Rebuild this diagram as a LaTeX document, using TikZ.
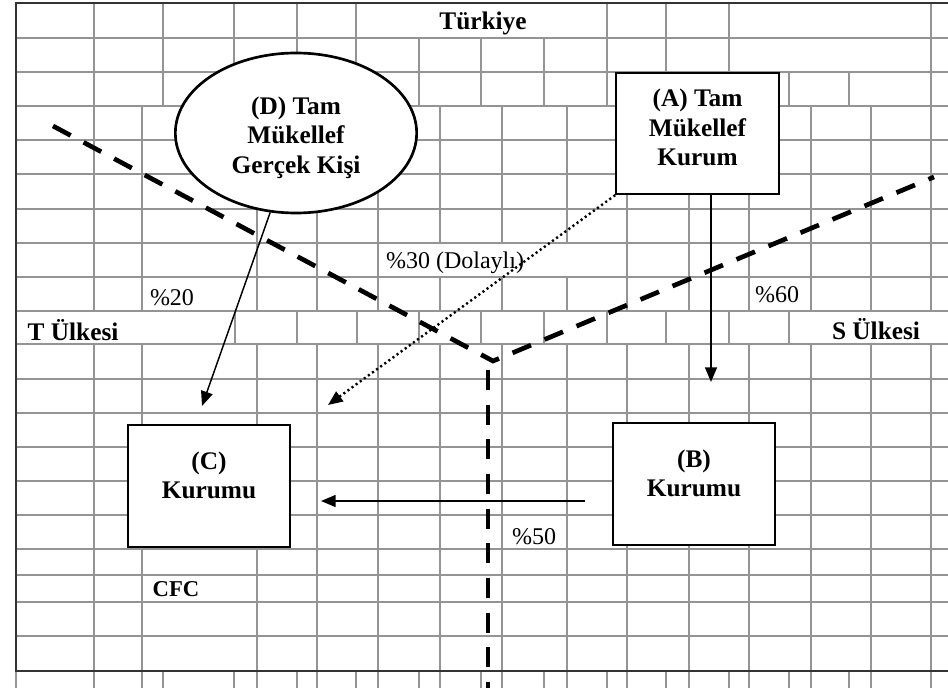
\documentclass[tikz,border=0pt]{standalone}
\usepackage{fontspec}
\setmainfont{Liberation Serif}
\usetikzlibrary{shapes.geometric,arrows.meta}
\definecolor{gridgray}{gray}{0.58}
\definecolor{framegray}{gray}{0.2}
\tikzset{>={Triangle[length=11pt,width=9pt]}}
\tikzset{
  cell/.style={draw=gridgray, line width=0.9pt},
  frame/.style={draw=framegray, line width=2pt},
  border/.style={line width=3.5pt, dash pattern=on 15pt off 11pt},
  box/.style={draw, line width=1.5pt, fill=white, minimum width=122pt, minimum height=91pt, inner sep=0pt},
  oval/.style={ellipse, draw, line width=2pt, fill=white, minimum width=181pt, minimum height=120pt, inner sep=0pt},
  title/.style={font=\fontsize{19}{22}\selectfont\bfseries, align=center, inner sep=0pt},
  pct/.style={font=\fontsize{18}{21}\selectfont, inner sep=0pt},
  flow/.style={->, line width=1.1pt},
}

\begin{document}
\begin{tikzpicture}[x=0.75pt,y=-0.75pt]
    \useasboundingbox (0,0) rectangle (948,688);
    \clip (0,0) rectangle (948,688);
    % table cells
    \foreach \y in {38,72,106,140,174,209,243,277,311,344,379,413,447,481,515,549,575,602,636}
    \draw[cell] (16,\y) -- (948,\y);
    \foreach \x in {94,163,234,297,356,607,666,729,931}
    \draw[cell] (\x,3) -- (\x,106);
    \foreach \x in {419,481,544}
    \draw[cell] (\x,38) -- (\x,106);
    \foreach \x in {789,849}
    \draw[cell] (\x,72) -- (\x,106);
    \foreach \x in {94,142,257,317,378,627,689,749,811,871,931}
    \draw[cell] (\x,106) -- (\x,311);
    \foreach \x in {440,502,567} {
    \draw[cell] (\x,106) -- (\x,243);
    \draw[cell] (\x,277) -- (\x,311);
    }
    \foreach \x in {235,297,357,419,481,544,607,666,729,789}
    \draw[cell] (\x,311) -- (\x,344);
    \foreach \x in {94,142,257,317,378,440,502,567,627,689,749,811,871,931}
    \draw[cell] (\x,344) -- (\x,671);
    \foreach \x in {16,94,142,163,234,257,297,317,356,378,419,440,481,502,544,567,607,627,666,689,729,749,789,811,849,871,931}
    \draw[cell] (\x,671) -- (\x,688);
    \draw[frame] (948,3) -- (16,3) -- (16,671) -- (948,671);
    % country borders
    \coordinate (Tend) at (53,126);
    \coordinate (Mid) at (493,361);
    \coordinate (Send) at (934,177);
    \coordinate (Top) at (488,370);
    \coordinate (Bot) at (488,688);
    \draw[border] (Tend) -- (Mid) -- (Send);
    \draw[border] (Top) -- (Bot);
    % taxpayers
    \node[oval] (D) at (296,133) {};
    \node[title] (Dtext) at ([yshift=-3.4pt]D.center) {(D) Tam\\M\"ukellef\\Ger\c{c}ek Ki\c{s}i};
    \node[box] (A) at (697.5,133.5) {};
    \node[title] (Atext) at ([yshift=4.5pt]A.center) {(A) Tam\\M\"ukellef\\Kurum};
    \node[box] (B) at (694,484) {};
    \node[title] (Btext) at ([yshift=8pt]B.center) {(B)\\Kurumu};
    \node[box] (C) at (209,486) {};
    \node[title] (Ctext) at ([yshift=8pt]C.center) {(C)\\Kurumu};
    % shares
    \coordinate (Cin1) at (202,406);
    \coordinate (Cin2) at (328,405);
    \coordinate (Cin3) at (321,501);
    \coordinate (Bout) at (585,501);
    \coordinate (Bin) at (711,382);
    \draw[flow] (D.252) -- (Cin1);
    \draw[flow, line width=1.8pt, dash pattern=on 1.6pt off 2.2pt] (A.south west) -- (Cin2);
    \draw[flow] (A.south -| Bin) -- (Bin);
    \draw[flow] (Bout) -- (Cin3);
    % labels
    \node[title] (tr) at (483,23) {T\"urkiye};
    \node[title] (tland) at (73,330) {T \"Ulkesi};
    \node[title] (sland) at (876,329) {S \"Ulkesi};
    \node[pct] (p20) at (172,298) {\%20};
    \node[pct] (p30) at (455,263) {\%30 (Dolayl\i)};
    \node[pct] (p60) at (777,295) {\%60};
    \node[pct] (p50) at (534,537) {\%50};
    \node[title, font=\fontsize{17}{20}\selectfont\bfseries] (cfc) at (176,589) {CFC};
\end{tikzpicture}
\end{document}
